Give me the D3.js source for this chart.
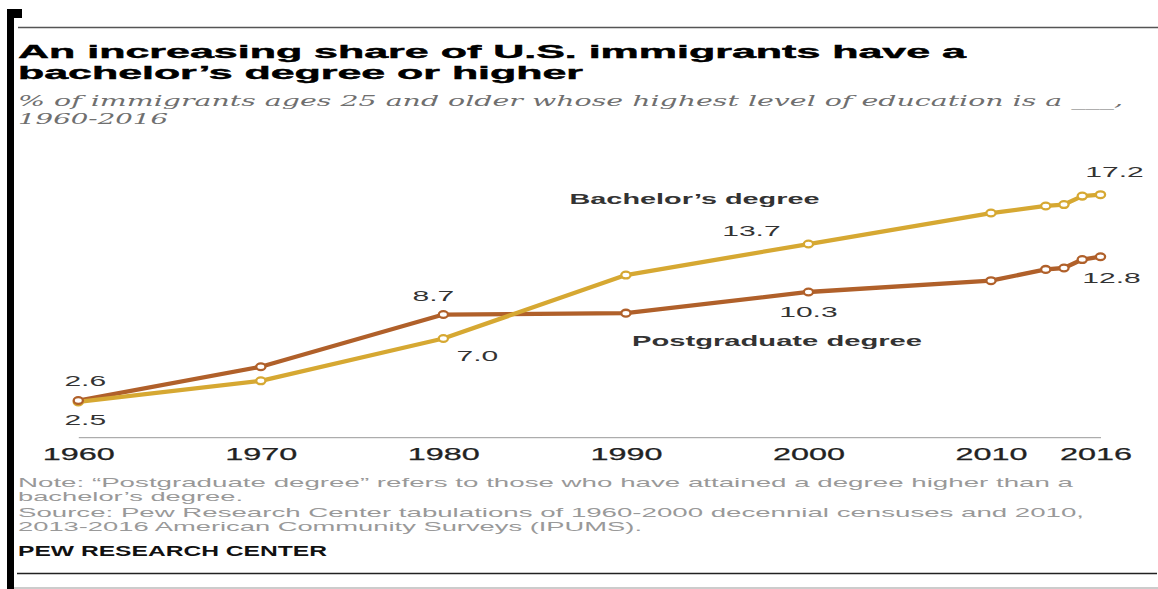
<!DOCTYPE html>
<html>
<head>
<meta charset="utf-8">
<script src="https://cdn.jsdelivr.net/npm/d3@7"></script>
<style>
  html, body { margin: 0; padding: 0; background: #fff; }
  svg { display: block; }
</style>
</head>
<body>
<svg id="chart" width="1158" height="589"></svg>
<script>
// Share of immigrants ages 25+ by highest level of education, 1960-2016 (%)
const years = [1960, 1970, 1980, 1990, 2000, 2010, 2013, 2014, 2015, 2016];
const bachelorShare = [2.5, 4.0, 7.0, 11.5, 13.7, 15.9, 16.4, 16.5, 17.1, 17.2];
const postgradShare = [2.6, 5.0, 8.7, 8.8, 10.3, 11.1, 11.9, 12.0, 12.6, 12.8];
const tickYears = [1960, 1970, 1980, 1990, 2000, 2010, 2016];
const seriesNames = ["Bachelor’s degree", "Postgraduate degree"];
const labeledYears = [1960, 1980, 2000, 2016];

const titleLines = ["An increasing share of U.S. immigrants have a", "bachelor’s degree or higher"];
const subtitleLines = ["% of immigrants ages 25 and older whose highest level of education is a ___,", "1960-2016"];
const noteLines = [
  "Note: “Postgraduate degree” refers to those who have attained a degree higher than a",
  "bachelor’s degree.",
  "Source: Pew Research Center tabulations of 1960-2000 decennial censuses and 2010,",
  "2013-2016 American Community Surveys (IPUMS)."
];
const creditText = "PEW RESEARCH CENTER";

const GOLD = "#d6a832";
const BROWN = "#b0602a";
const SANS = "'Liberation Sans', Arial, sans-serif";
const SERIF = "'DejaVu Serif', Georgia, serif";

const svg = d3.select("#chart");

// stretch text horizontally to a fixed width
function fit(sel, w) {
  sel.attr("textLength", w).attr("lengthAdjust", "spacingAndGlyphs");
  return sel;
}
// widen text by a factor of its natural width
function widen(sel, k) {
  sel.each(function () {
    const n = this.getComputedTextLength();
    d3.select(this).attr("textLength", n * k).attr("lengthAdjust", "spacingAndGlyphs");
  });
  return sel;
}

// ---- frame ----
svg.append("rect").attr("x", 7).attr("y", 9).attr("width", 7).attr("height", 580).attr("fill", "#000");
svg.append("rect").attr("x", 7).attr("y", 9).attr("width", 15).attr("height", 9).attr("fill", "#000");
svg.append("line").attr("x1", 18).attr("x2", 1158).attr("y1", 27.5).attr("y2", 27.5)
  .attr("stroke", "#555").attr("stroke-width", 1.5);
svg.append("line").attr("x1", 17).attr("x2", 1157).attr("y1", 573.5).attr("y2", 573.5)
  .attr("stroke", "#222").attr("stroke-width", 1.5);
svg.append("line").attr("x1", 14).attr("x2", 1158).attr("y1", 588).attr("y2", 588)
  .attr("stroke", "#999").attr("stroke-width", 1);

// ---- title & subtitle ----
const titleWidths = [948, 565];
titleLines.forEach((t, i) => {
  fit(svg.append("text")
    .attr("x", 18).attr("y", 57.5 + i * 21.5)
    .attr("font-family", SANS).attr("font-weight", "bold").attr("font-size", 17.5)
    .attr("fill", "#000").attr("stroke", "#000").attr("stroke-width", 0.4)
    .text(t), titleWidths[i]);
});
const subtitleWidths = [1105, 150];
subtitleLines.forEach((t, i) => {
  fit(svg.append("text")
    .attr("x", 18).attr("y", 106 + i * 17.5)
    .attr("font-family", SERIF).attr("font-style", "italic").attr("font-size", 14.5)
    .attr("fill", "#6f6f6f").text(t), subtitleWidths[i]);
});

// ---- scales ----
const x = d3.scaleLinear().domain([1960, 2016]).range([78.3, 1100.5]);
const y = d3.scaleLinear().domain([0, 17.2]).range([437.2, 194.7]);

// ---- x axis ----
const xAxis = d3.axisBottom(x)
  .tickValues(tickYears)
  .tickFormat(d3.format("d"))
  .tickSize(0)
  .tickSizeOuter(0)
  .tickPadding(11);
const axisG = svg.append("g").attr("transform", `translate(0,${y(0)})`).call(xAxis);
axisG.select(".domain").attr("stroke", "#999").attr("stroke-width", 1);
axisG.selectAll(".tick text")
  .attr("font-family", SANS).attr("font-weight", "normal").attr("font-size", 16.5)
  .attr("fill", "#222").attr("stroke", "#222").attr("stroke-width", 0.25);
fit(axisG.selectAll(".tick text"), 72);
axisG.selectAll(".tick").filter(d => d === 2016).select("text").attr("dx", -5);

// ---- lines ----
const series = [
  { name: seriesNames[0], values: bachelorShare, color: GOLD },
  { name: seriesNames[1], values: postgradShare, color: BROWN }
];
const line = d3.line().x((d, i) => x(years[i])).y(d => y(d));

// postgraduate line underneath, bachelor's above
[series[1], series[0]].forEach(s => {
  svg.append("path")
    .datum(s.values)
    .attr("d", line)
    .attr("fill", "none")
    .attr("stroke", s.color)
    .attr("stroke-width", 4.3)
    .attr("stroke-linejoin", "round");
});

// point markers (postgraduate drawn last)
[series[0], series[1]].forEach(s => {
  svg.append("g").selectAll("ellipse")
    .data(s.values)
    .join("ellipse")
    .attr("cx", (d, i) => x(years[i]))
    .attr("cy", d => y(d))
    .attr("rx", 4.6)
    .attr("ry", 3.4)
    .attr("fill", "#fff")
    .attr("stroke", s.color)
    .attr("stroke-width", 2.3);
});

// ---- value labels ----
const labelOffsets = [
  // bachelor's
  { 1960: [7, 23], 1980: [34, 22], 2000: [-57, -8], 2016: [14, -18] },
  // postgraduate
  { 1960: [7, -15], 1980: [-10, -14], 2000: [0, 25], 2016: [11, 26] }
];
const fmt = d3.format(".1f");
series.forEach((s, si) => {
  labeledYears.forEach(yr => {
    const i = years.indexOf(yr);
    const [dx, dy] = labelOffsets[si][yr];
    widen(svg.append("text")
      .attr("x", x(yr) + dx)
      .attr("y", y(s.values[i]) + dy)
      .attr("text-anchor", "middle")
      .attr("font-family", SANS).attr("font-size", 15)
      .attr("fill", "#333")
      .text(fmt(s.values[i])), 2.0);
  });
});

// ---- series labels ----
fit(svg.append("text")
  .attr("x", 569.5).attr("y", 203.5)
  .attr("font-family", SANS).attr("font-weight", "bold").attr("font-size", 15.5)
  .attr("fill", "#333").text(seriesNames[0]), 250);
fit(svg.append("text")
  .attr("x", 632).attr("y", 346)
  .attr("font-family", SANS).attr("font-weight", "bold").attr("font-size", 15.5)
  .attr("fill", "#333").text(seriesNames[1]), 290);

// ---- notes & credit ----
const noteWidths = [1055, 225, 1066, 624];
const noteY = [486.5, 501, 516.5, 531];
noteLines.forEach((t, i) => {
  fit(svg.append("text")
    .attr("x", 18).attr("y", noteY[i])
    .attr("font-family", SANS).attr("font-size", 13.5)
    .attr("fill", "#999").text(t), noteWidths[i]);
});
fit(svg.append("text")
  .attr("x", 18).attr("y", 556)
  .attr("font-family", SANS).attr("font-weight", "bold").attr("font-size", 14)
  .attr("fill", "#111").text(creditText), 309);
</script>
</body>
</html>
